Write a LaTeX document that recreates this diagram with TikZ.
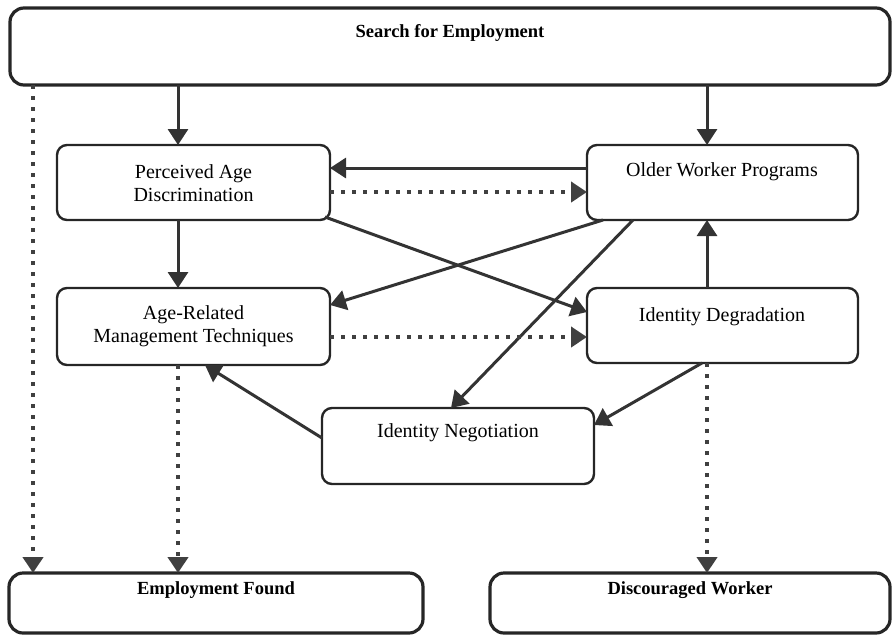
\documentclass[tikz,border=0pt]{standalone}
\usepackage{fontspec}
\setmainfont{Liberation Serif}
\usetikzlibrary{arrows.meta,calc}
\begin{document}
\begin{tikzpicture}[x=1pt,y=-1pt,
  box/.style={draw=black!85, line width=2.4pt, rounded corners=10pt, inner sep=0pt, outer sep=0pt, anchor=north west},
  bigbox/.style={box, line width=3.2pt, rounded corners=14pt},
  lbl/.style={inner sep=0pt, align=center, font=\fontsize{20}{23}\selectfont},
  blbl/.style={inner sep=0pt, font=\fontsize{18.5}{22}\selectfont\bfseries},
  arr/.style={draw=black!80, line width=3pt, -{Triangle[width=20pt,length=16pt]}},
  dotarr/.style={draw=black!75, line width=4pt, dash pattern=on 4pt off 7pt, -{Triangle[width=20pt,length=16pt]}},
]
\useasboundingbox (0,0) rectangle (893,635);

% boxes
\node[bigbox, minimum width=880pt, minimum height=77pt] (sfe) at (10,8) {};
\node[box, minimum width=273pt, minimum height=75pt] (pad) at (57,145) {};
\node[box, minimum width=271pt, minimum height=75pt] (owp) at (587,145) {};
\node[box, minimum width=273pt, minimum height=77pt] (arm) at (57,288) {};
\node[box, minimum width=271pt, minimum height=75pt] (idg) at (587,288) {};
\node[box, minimum width=272pt, minimum height=76pt] (ing) at (322,408) {};
\node[bigbox, minimum width=414pt, minimum height=60pt] (efd) at (9,573) {};
\node[bigbox, minimum width=400pt, minimum height=60pt] (dsw) at (490,573) {};

% texts
\node[blbl] (sfet) at (450,33) {Search for Employment};
\node[lbl] (padt) at (193.5,183) {Perceived Age\\Discrimination};
\node[lbl] (owpt) at (722,172) {Older Worker Programs};
\node[lbl] (armt) at (193.5,326.5) {Age-Related\\Management Techniques};
\node[lbl] (idgt) at (722,317) {Identity Degradation};
\node[lbl] (ingt) at (458,433) {Identity Negotiation};
\node[blbl] (efdt) at (216,590) {Employment Found};
\node[blbl] (dswt) at (690,590) {Discouraged Worker};

% helper coordinates
\coordinate (colA) at (33,0);
\coordinate (colL) at (178,0);
\coordinate (colR) at (707,0);
\coordinate (rowA) at (0,168);
\coordinate (rowB) at (0,192);
\coordinate (rowC) at (0,312);
\coordinate (rowD) at (0,305);
\coordinate (rowE) at (0,425);
\coordinate (rowF) at (0,438);
\coordinate (rowG) at (0,337);

% solid connectors
\draw[arr] (sfe.south -| colL) -- (pad.north -| colL);
\draw[arr] (sfe.south -| colR) -- (owp.north -| colR);
\draw[arr] (pad.south -| colL) -- (arm.north -| colL);
\draw[arr] (idg.north -| colR) -- (owp.south -| colR);
\draw[arr] (owp.west |- rowA) -- (pad.east |- rowA);
\draw[arr] ($(pad.south east)+(-5,-3)$) -- (idg.west |- rowC);
\draw[arr] ($(owp.south west)+(16,0)$) -- (arm.east |- rowD);
\draw[arr] ($(owp.south west)+(46,0)$) -- ($(ing.north west)+(129,0)$);
\draw[arr] ($(idg.south west)+(115,0)$) -- (ing.east |- rowE);
\draw[arr] (ing.west |- rowF) -- ($(arm.south west)+(148,0)$);

% dotted connectors
\draw[dotarr] (pad.east |- rowB) -- (owp.west |- rowB);
\draw[dotarr] (arm.east |- rowG) -- (idg.west |- rowG);
\draw[dotarr] (sfe.south -| colA) -- (efd.north -| colA);
\draw[dotarr] (arm.south -| colL) -- (efd.north -| colL);
\draw[dotarr] (idg.south -| colR) -- (dsw.north -| colR);
\end{tikzpicture}
\end{document}
